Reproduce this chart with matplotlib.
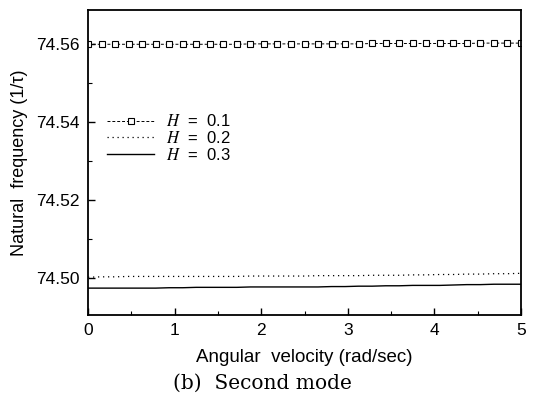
import numpy as np
import matplotlib
matplotlib.use("Agg")
import matplotlib.pyplot as plt
from matplotlib.ticker import MultipleLocator

plt.rcParams["font.family"] = ["Liberation Sans", "DejaVu Sans"]
plt.rcParams["mathtext.fontset"] = "stix"

# angular velocity grid (rad/sec)
omega = np.linspace(0, 5, 33)

# natural frequency (1/tau)
h01 = [74.5600, 74.5600, 74.5600, 74.5600, 74.5600, 74.5600, 74.5600, 74.5600,
       74.5600, 74.5600, 74.5600, 74.5600, 74.5601, 74.5601, 74.5601, 74.5601,
       74.5601, 74.5601, 74.5601, 74.5601, 74.5601, 74.5602, 74.5602, 74.5602,
       74.5602, 74.5602, 74.5602, 74.5602, 74.5602, 74.5603, 74.5603, 74.5603,
       74.5603]
h02 = [74.5002, 74.5003, 74.5003, 74.5004, 74.5004, 74.5004, 74.5004, 74.5004,
       74.5004, 74.5004, 74.5004, 74.5004, 74.5005, 74.5005, 74.5005, 74.5005,
       74.5005, 74.5006, 74.5006, 74.5006, 74.5006, 74.5007, 74.5007, 74.5007,
       74.5008, 74.5008, 74.5009, 74.5009, 74.5010, 74.5010, 74.5011, 74.5011,
       74.5012]
h03 = [74.4974, 74.4974, 74.4974, 74.4974, 74.4974, 74.4974, 74.4975, 74.4975,
       74.4976, 74.4976, 74.4976, 74.4976, 74.4977, 74.4977, 74.4977, 74.4977,
       74.4977, 74.4977, 74.4978, 74.4978, 74.4979, 74.4979, 74.4980, 74.4980,
       74.4981, 74.4981, 74.4981, 74.4982, 74.4983, 74.4983, 74.4984, 74.4984,
       74.4984]

fig = plt.figure(figsize=(5.47, 4.07), dpi=100)
ax = fig.add_axes([88 / 547, 1 - 315 / 407, 433 / 547, 305 / 407])

ax.plot(omega, h01, color="black", linewidth=0.7, linestyle=(0, (3, 2)),
        marker="s", markersize=4.5, markerfacecolor="white",
        markeredgecolor="black", markeredgewidth=0.8, label=r"$H$  =  0.1")
ax.plot(omega, h02, color="black", linewidth=0.9, linestyle=(0, (1, 3)),
        label=r"$H$  =  0.2")
ax.plot(omega, h03, color="black", linewidth=1.0, label=r"$H$  =  0.3")

ax.set_xlim(0, 5)
ax.set_ylim(74.4905, 74.5688)
ax.xaxis.set_major_locator(MultipleLocator(1))
ax.xaxis.set_minor_locator(MultipleLocator(0.5))
ax.yaxis.set_major_locator(MultipleLocator(0.02))
ax.yaxis.set_minor_locator(MultipleLocator(0.01))
ax.yaxis.set_major_formatter(plt.FormatStrFormatter("%.2f"))
ax.tick_params(which="both", direction="in", labelsize=12.5, pad=6)
ax.tick_params(which="major", length=5, width=1)
ax.tick_params(which="minor", length=3, width=0.8)
for s in ax.spines.values():
    s.set_linewidth(1.3)

ax.set_xlabel("Angular  velocity (rad/sec)", fontsize=13.5, labelpad=8)
ax.set_ylabel("Natural  frequency (1/\u03c4)", fontsize=13, labelpad=6)

ax.legend(loc="upper left", bbox_to_anchor=(0.01, 0.71), frameon=False,
          fontsize=12, handlelength=2.8, handletextpad=0.7,
          labelspacing=0.05, borderaxespad=0.5)

fig.text(262 / 547, 1 - 383 / 407, "(b)  Second mode", ha="center",
         va="center", fontsize=14.5, family="DejaVu Serif")

fig.savefig("out.png")
